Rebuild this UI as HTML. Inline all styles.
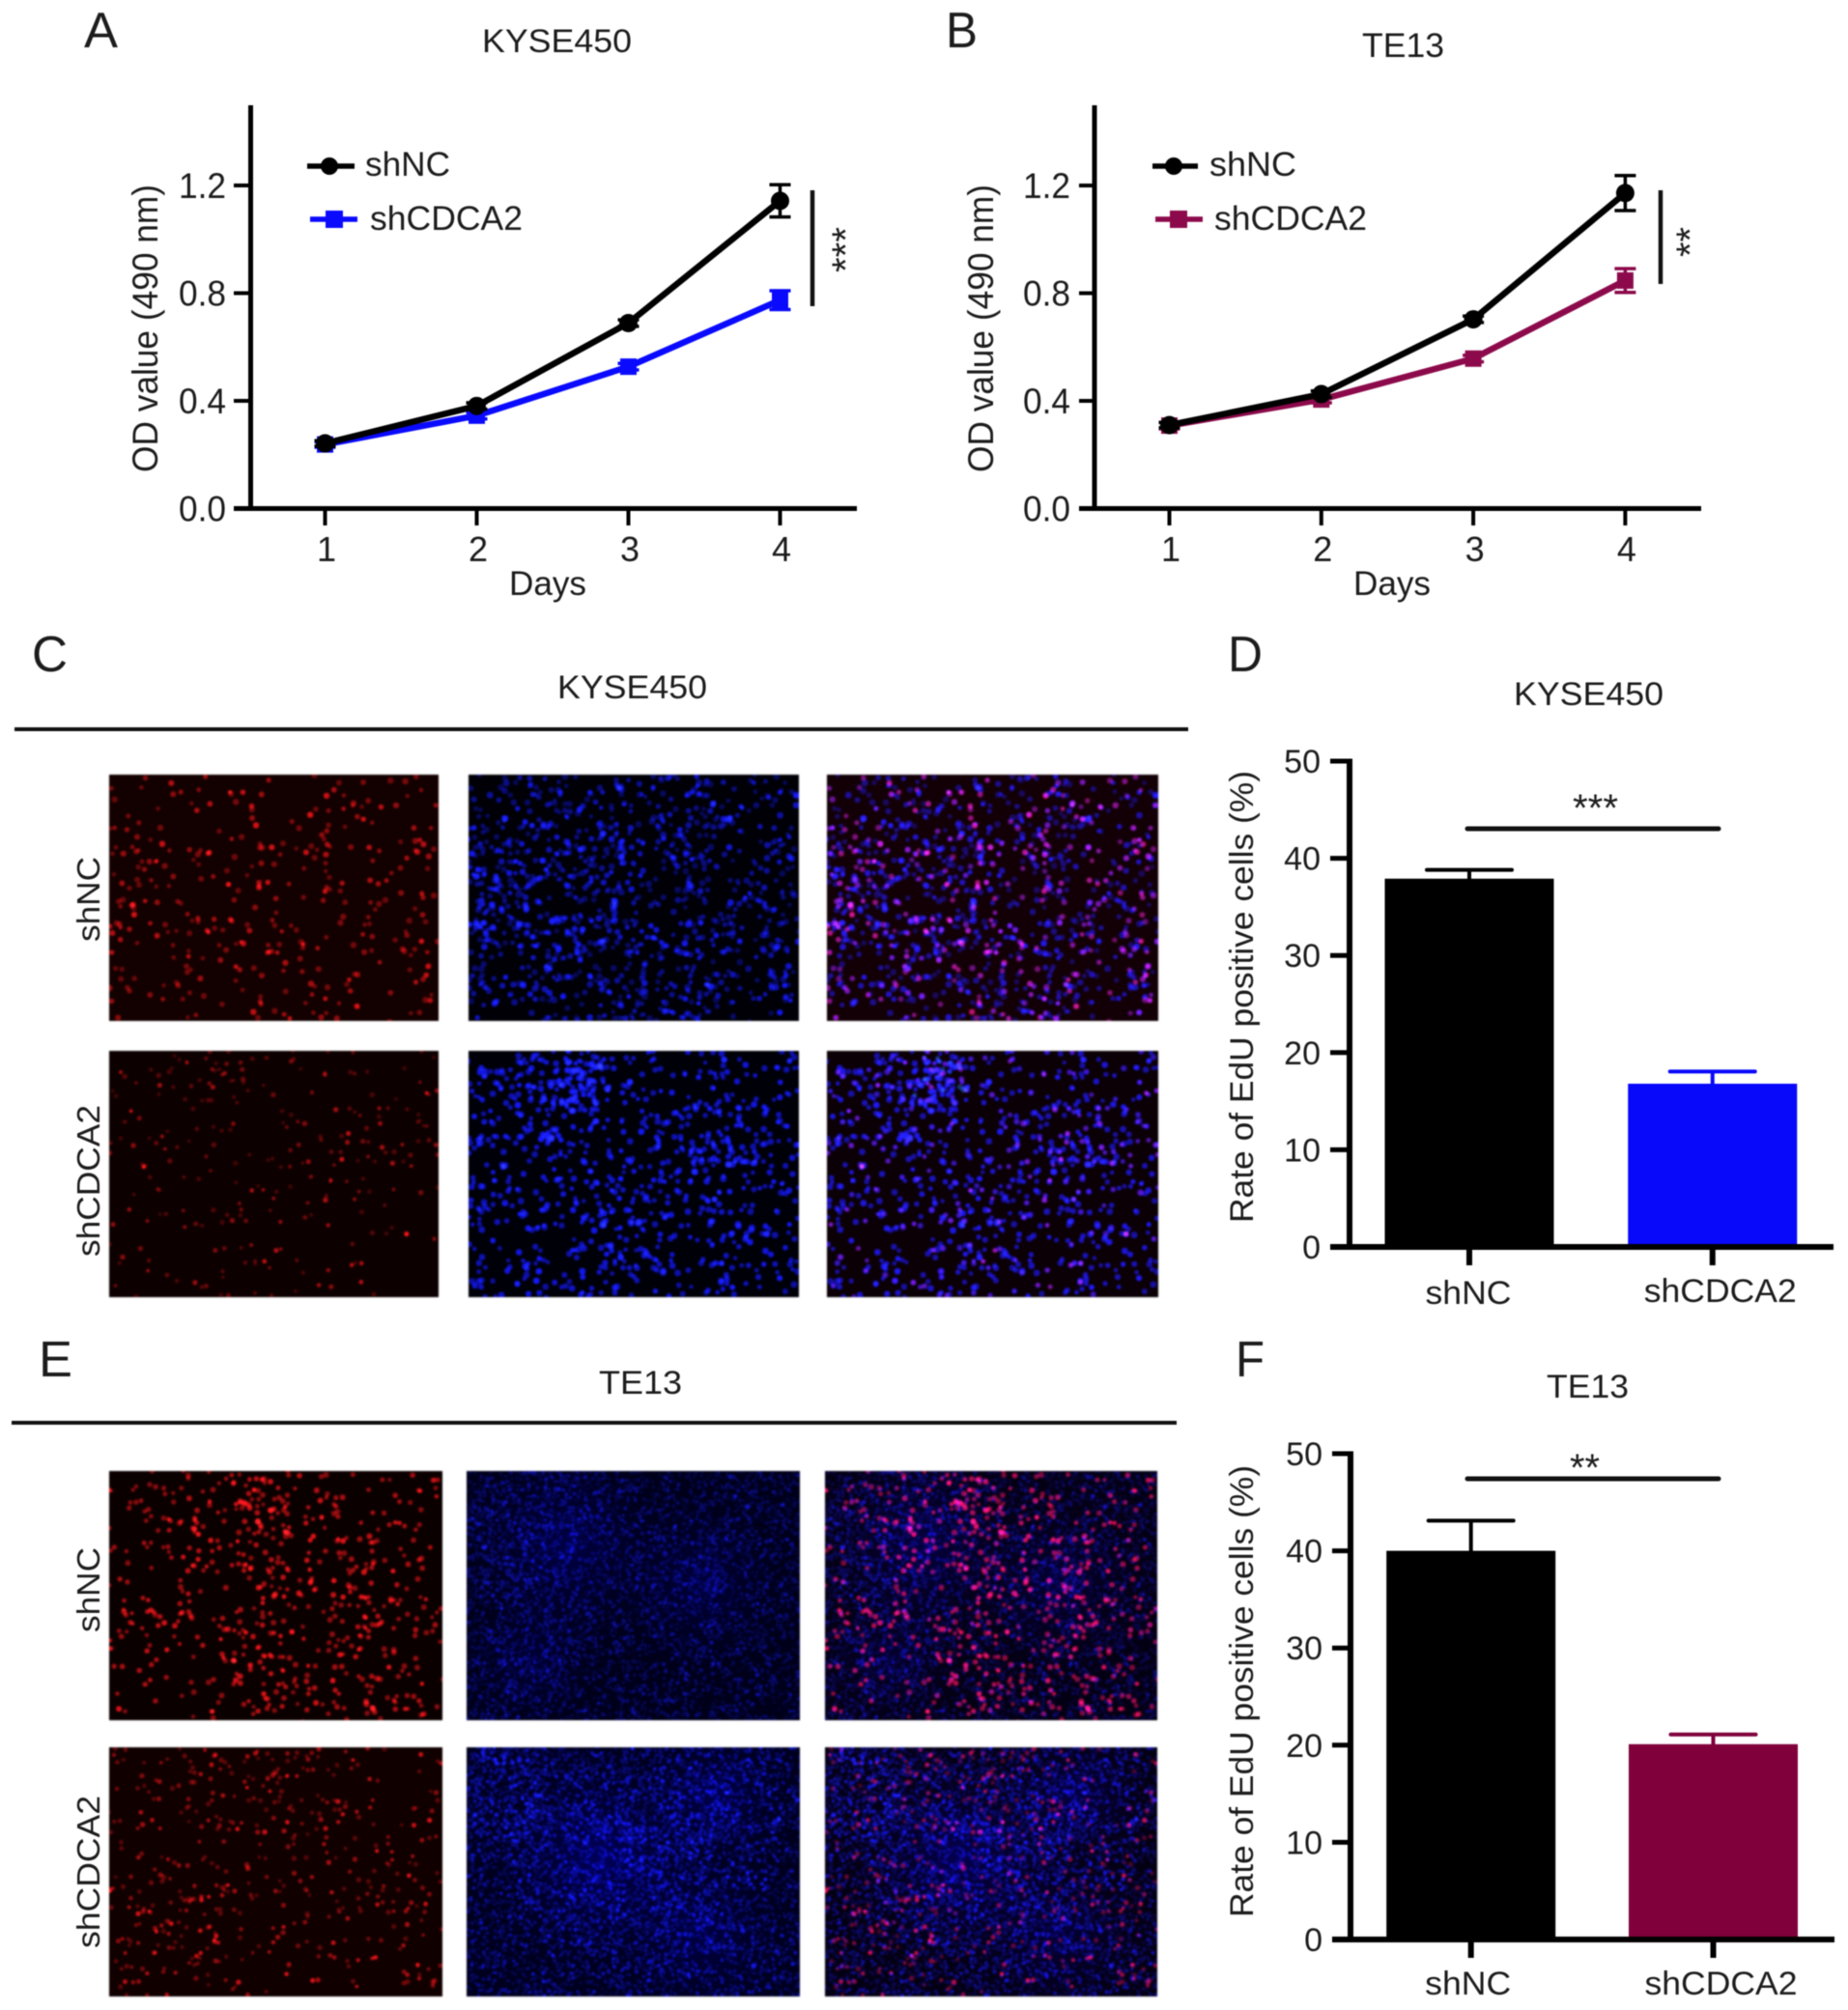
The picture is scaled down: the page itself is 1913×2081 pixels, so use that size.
<!DOCTYPE html>
<html lang="en">
<head>
<meta charset="utf-8">
<title>CDCA2 knockdown proliferation figure</title>
<style>
html,body{margin:0;padding:0;background:#fff;}
#figure{position:relative;width:1913px;height:2081px;overflow:hidden;background:#fff;filter:blur(0.6px);}
#figure canvas{position:absolute;display:block;filter:blur(0.7px);}
#figure svg{position:absolute;left:0;top:0;}
text{font-family:"Liberation Sans",sans-serif;fill:#1c1c1c;}
</style>
</head>
<body>
<div id="figure">
  <canvas id="c-r1" width="341" height="255" style="left:113px;top:802px"></canvas>
  <canvas id="c-b1" width="342" height="255" style="left:485px;top:802px"></canvas>
  <canvas id="c-m1" width="343" height="255" style="left:856px;top:802px"></canvas>
  <canvas id="c-r2" width="341" height="255" style="left:113px;top:1088px"></canvas>
  <canvas id="c-b2" width="342" height="255" style="left:485px;top:1088px"></canvas>
  <canvas id="c-m2" width="343" height="255" style="left:856px;top:1088px"></canvas>
  <canvas id="e-r1" width="345" height="258" style="left:113px;top:1523px"></canvas>
  <canvas id="e-b1" width="345" height="258" style="left:483px;top:1523px"></canvas>
  <canvas id="e-m1" width="344" height="258" style="left:854px;top:1523px"></canvas>
  <canvas id="e-r2" width="345" height="258" style="left:113px;top:1809px"></canvas>
  <canvas id="e-b2" width="345" height="258" style="left:483px;top:1809px"></canvas>
  <canvas id="e-m2" width="344" height="258" style="left:854px;top:1809px"></canvas>

  <svg id="chart" width="1913" height="2081" viewBox="0 0 1913 2081" xmlns="http://www.w3.org/2000/svg">
    <!-- panel letters -->
    <text x="87" y="49" font-size="52" textLength="35" lengthAdjust="spacingAndGlyphs">A</text>
    <text x="979" y="49" font-size="52" textLength="33" lengthAdjust="spacingAndGlyphs">B</text>
    <text x="33" y="695" font-size="52" textLength="37" lengthAdjust="spacingAndGlyphs">C</text>
    <text x="1271" y="695" font-size="52" textLength="36" lengthAdjust="spacingAndGlyphs">D</text>
    <text x="40" y="1425" font-size="52" textLength="35" lengthAdjust="spacingAndGlyphs">E</text>
    <text x="1279" y="1425" font-size="52" textLength="30" lengthAdjust="spacingAndGlyphs">F</text>

    <!-- titles -->
    <text x="499" y="54" font-size="34" textLength="155" lengthAdjust="spacingAndGlyphs">KYSE450</text>
    <text x="1410" y="59" font-size="35" textLength="85" lengthAdjust="spacingAndGlyphs">TE13</text>
    <text x="577" y="723" font-size="34" textLength="155" lengthAdjust="spacingAndGlyphs">KYSE450</text>
    <text x="1567" y="730" font-size="34" textLength="155" lengthAdjust="spacingAndGlyphs">KYSE450</text>
    <text x="620" y="1443" font-size="34" textLength="86" lengthAdjust="spacingAndGlyphs">TE13</text>
    <text x="1601" y="1447" font-size="34" textLength="85" lengthAdjust="spacingAndGlyphs">TE13</text>

    <!-- image panel header rules -->
    <line x1="15" y1="755" x2="1230" y2="755" stroke="#111" stroke-width="4"/>
    <line x1="12" y1="1473" x2="1218" y2="1473" stroke="#111" stroke-width="4"/>

    <!-- image row labels -->
    <text transform="translate(103,975) rotate(-90)" font-size="33" textLength="88" lengthAdjust="spacingAndGlyphs">shNC</text>
    <text transform="translate(103,1301) rotate(-90)" font-size="33" textLength="157" lengthAdjust="spacingAndGlyphs">shCDCA2</text>
    <text transform="translate(103,1690) rotate(-90)" font-size="33" textLength="88" lengthAdjust="spacingAndGlyphs">shNC</text>
    <text transform="translate(103,2017) rotate(-90)" font-size="33" textLength="158" lengthAdjust="spacingAndGlyphs">shCDCA2</text>

    <!-- axis titles -->
    <text transform="translate(163,489) rotate(-90)" font-size="37" textLength="298" lengthAdjust="spacingAndGlyphs">OD value (490 nm)</text>
    <text transform="translate(1028,489) rotate(-90)" font-size="37" textLength="298" lengthAdjust="spacingAndGlyphs">OD value (490 nm)</text>
    <text x="527" y="616" font-size="35" textLength="80" lengthAdjust="spacingAndGlyphs">Days</text>
    <text x="1401" y="616" font-size="35" textLength="80" lengthAdjust="spacingAndGlyphs">Days</text>
    <text transform="translate(1297,1266) rotate(-90)" font-size="34" textLength="468" lengthAdjust="spacingAndGlyphs">Rate of EdU positive cells (%)</text>
    <text transform="translate(1297,1985) rotate(-90)" font-size="34" textLength="468" lengthAdjust="spacingAndGlyphs">Rate of EdU positive cells (%)</text>

    <!-- legends -->
    <g>
      <line x1="318" y1="172" x2="367" y2="172" stroke="#000" stroke-width="5.5"/>
      <circle cx="341" cy="172" r="9" fill="#000"/>
      <text x="378" y="182" font-size="35" textLength="88" lengthAdjust="spacingAndGlyphs">shNC</text>
      <line x1="321" y1="227" x2="370" y2="227" stroke="#0a0aff" stroke-width="5.5"/>
      <rect x="337" y="218" width="18" height="18" fill="#0a0aff"/>
      <text x="383" y="238" font-size="35" textLength="158" lengthAdjust="spacingAndGlyphs">shCDCA2</text>
    </g>
    <g>
      <line x1="1193" y1="172" x2="1240" y2="172" stroke="#000" stroke-width="5.5"/>
      <circle cx="1215" cy="172" r="9" fill="#000"/>
      <text x="1252" y="182" font-size="35" textLength="90" lengthAdjust="spacingAndGlyphs">shNC</text>
      <line x1="1196" y1="227" x2="1245" y2="227" stroke="#8c0a4b" stroke-width="5.5"/>
      <rect x="1211" y="218" width="18" height="18" fill="#8c0a4b"/>
      <text x="1257" y="238" font-size="35" textLength="158" lengthAdjust="spacingAndGlyphs">shCDCA2</text>
    </g>

    <!-- significance annotations -->
    <line x1="841" y1="197" x2="841" y2="317" stroke="#111" stroke-width="4.5"/>
    <text transform="translate(889,282) rotate(-90)" font-size="40" textLength="47" lengthAdjust="spacingAndGlyphs">***</text>
    <line x1="1719" y1="197" x2="1719" y2="294" stroke="#111" stroke-width="4.5"/>
    <text transform="translate(1763,266) rotate(-90)" font-size="40" textLength="31" lengthAdjust="spacingAndGlyphs">**</text>
    <line x1="1519" y1="858" x2="1779" y2="858" stroke="#111" stroke-width="5" stroke-linecap="round"/>
    <text x="1628" y="850" font-size="40" textLength="47" lengthAdjust="spacingAndGlyphs">***</text>
    <line x1="1519" y1="1531" x2="1779" y2="1531" stroke="#111" stroke-width="5" stroke-linecap="round"/>
    <text x="1625" y="1533" font-size="40" textLength="31" lengthAdjust="spacingAndGlyphs">**</text>
  </svg>
</div>

<script>
/* ---------- chart data ---------- */
const days = [1, 2, 3, 4];
const odTicks = [0, 0.4, 0.8, 1.2];
const odTickLabels = ["0.0", "0.4", "0.8", "1.2"];

const kyseShNC = [0.242, 0.381, 0.689, 1.143];
const kyseShNCErr = [0.01, 0.012, 0.012, 0.06];
const kyseShCDCA2 = [0.238, 0.345, 0.527, 0.774];
const kyseShCDCA2Err = [0.01, 0.012, 0.012, 0.035];

const te13ShNC = [0.31, 0.425, 0.703, 1.172];
const te13ShNCErr = [0.01, 0.012, 0.012, 0.065];
const te13ShCDCA2 = [0.308, 0.405, 0.557, 0.847];
const te13ShCDCA2Err = [0.012, 0.012, 0.012, 0.044];

const eduGroups = ["shNC", "shCDCA2"];
const eduTicks = [0, 10, 20, 30, 40, 50];
const kyseEdu = [37.9, 16.8];
const kyseEduErr = [0.9, 1.25];
const te13Edu = [40.0, 20.1];
const te13EduErr = [3.1, 1.0];

/* ---------- svg helper ---------- */
const svg = document.getElementById("chart");
function el(parent, tag, attrs, text) {
  const node = document.createElementNS("http://www.w3.org/2000/svg", tag);
  for (const k in attrs) node.setAttribute(k, attrs[k]);
  if (text !== undefined) node.textContent = text;
  parent.appendChild(node);
  return node;
}

/* ---------- line charts (panels A, B) ---------- */
function drawLineChart(panel, left, right, axisX, x0, step, labelEnd, seriesA, errA, seriesB, errB, colorB) {
  const xScale = d => x0 + (d - days[0]) * step;
  const yScale = v => 526.5 - v * 278.7;

  const g = el(svg, "g", {});
  
  

  const yAxis = el(g, "line", {x1: axisX, y1: 109, x2: axisX, y2: yScale(0) + 2.5, stroke: "#000", "stroke-width": 5});
  
  
  const xAxis = el(g, "line", {x1: left, y1: yScale(0), x2: right, y2: yScale(0), stroke: "#000", "stroke-width": 5});
  
  

  odTicks.forEach((t, i) => {
    const tick = el(g, "line", {x1: left, y1: yScale(t), x2: axisX, y2: yScale(t), stroke: "#000", "stroke-width": 4});
    
    
    const label = el(g, "text", {x: labelEnd, y: yScale(t) + 13, "font-size": 37, "text-anchor": "end", textLength: 49, lengthAdjust: "spacingAndGlyphs"}, odTickLabels[i]);
    
    
  });
  days.forEach(d => {
    const tick = el(g, "line", {x1: xScale(d), y1: yScale(0), x2: xScale(d), y2: 544, stroke: "#000", "stroke-width": 4});
    
    
    const label = el(g, "text", {x: xScale(d) + 1.5, y: 581, "font-size": 36, "text-anchor": "middle"}, String(d));
    
    
  });

  drawSeries(g, panel, "shcdca2", seriesB, errB, colorB, "square", xScale, yScale);
  drawSeries(g, panel, "shnc", seriesA, errA, "#000", "circle", xScale, yScale);
}

function drawSeries(g, panel, name, values, errs, color, shape, xScale, yScale) {
  const pts = days.map((d, i) => xScale(d) + "," + yScale(values[i])).join(" ");
  const line = el(g, "polyline", {points: pts, fill: "none", stroke: color, "stroke-width": 6.5, "stroke-linejoin": "round"});
  
  
  days.forEach((d, i) => {
    const cx = xScale(d);
    const top = yScale(values[i] + errs[i]);
    const bot = yScale(values[i] - errs[i]);
    const whisker = el(g, "path", {
      d: "M" + cx + " " + top + "V" + bot + "M" + (cx - 11) + " " + top + "H" + (cx + 11) + "M" + (cx - 11) + " " + bot + "H" + (cx + 11),
      fill: "none", stroke: color, "stroke-width": 3.5
    });
    
    
    const cy = yScale(values[i]);
    const marker = shape === "circle"
      ? el(g, "circle", {cx: cx, cy: cy, r: 9.5, fill: color})
      : el(g, "rect", {x: cx - 8.5, y: cy - 8.5, width: 17, height: 17, fill: color});
    
    
  });
}

drawLineChart("a", 242, 887, 259.5, 336.5, 157, 234, kyseShNC, kyseShNCErr, kyseShCDCA2, kyseShCDCA2Err, "#0a0aff");
drawLineChart("b", 1117, 1761, 1133, 1210.5, 157.3, 1108, te13ShNC, te13ShNCErr, te13ShCDCA2, te13ShCDCA2Err, "#8c0a4b");

/* ---------- bar charts (panels D, F) ---------- */
function drawBarChart(panel, axisX, left, right, top, zero, c0, c1, labelY, values, errs, color) {
  const yScale = v => zero - v * (zero - top) / eduTicks[eduTicks.length - 1];
  const xScale = i => c0 + i * (c1 - c0);
  const colors = ["#000", color];

  const g = el(svg, "g", {});
  
  

  values.forEach((v, i) => {
    const cx = xScale(i);
    const bar = el(g, "rect", {x: cx - 87.5, y: yScale(v), width: 175, height: zero - yScale(v), fill: colors[i]});
    
    
    const errTop = yScale(v + errs[i]);
    const whisker = el(g, "path", {
      d: "M" + cx + " " + yScale(v) + "V" + errTop + "M" + (cx - 44) + " " + errTop + "H" + (cx + 44),
      fill: "none", stroke: colors[i], "stroke-width": 4, "stroke-linecap": "round"
    });
    
    
    const tick = el(g, "line", {x1: cx, y1: zero, x2: cx, y2: zero + 19, stroke: "#000", "stroke-width": 6});
    
    
    const wide = eduGroups[i].length > 4;
    const label = el(g, "text", {x: cx + (wide ? 8 : (panel === "f" ? -3 : -1)), y: i === 0 ? labelY : labelY - (panel === "d" ? 2 : 0), "font-size": 34, "text-anchor": "middle", textLength: wide ? 158 : 89, lengthAdjust: "spacingAndGlyphs"}, eduGroups[i]);
    
    
  });

  const yAxis = el(g, "line", {x1: axisX, y1: top - 2.5, x2: axisX, y2: zero + 2.5, stroke: "#000", "stroke-width": 6});
  
  
  const xAxis = el(g, "line", {x1: left, y1: zero, x2: right, y2: zero, stroke: "#000", "stroke-width": 6});
  
  

  eduTicks.forEach(t => {
    const tick = el(g, "line", {x1: left, y1: yScale(t), x2: axisX, y2: yScale(t), stroke: "#000", "stroke-width": 5});
    
    
    const label = el(g, "text", {x: left - 10, y: yScale(t) + 12, "font-size": 34, "text-anchor": "end"}, String(t));
    
    
  });
}

drawBarChart("d", 1397, 1377, 1898, 788, 1291, 1521, 1772.75, 1350, kyseEdu, kyseEduErr, "#0808fb");
drawBarChart("f", 1398, 1379, 1899, 1505, 2008, 1522.7, 1773.5, 2065, te13Edu, te13EduErr, "#80003c");

/* ---------- micrograph textures (decorative fluorescence images) ---------- */
function prng(seed) {
  return function () {
    seed |= 0; seed = seed + 0x6D2B79F5 | 0;
    let t = Math.imul(seed ^ seed >>> 15, 1 | seed);
    t = t + Math.imul(t ^ t >>> 7, 61 | t) ^ t;
    return ((t ^ t >>> 14) >>> 0) / 4294967296;
  };
}
function dots(seed, n, w, h, hot, hotShare, rMin, rMax, aMin, aMax) {
  const r = prng(seed), out = [];
  for (let i = 0; i < n; i++) {
    let x, y;
    if (hot.length && r() < hotShare) {
      const c = hot[Math.floor(r() * hot.length)];
      const a = r() * Math.PI * 2, d = Math.sqrt(-2 * Math.log(1 - r())) * c[2];
      x = c[0] * w + Math.cos(a) * d;
      y = c[1] * h + Math.sin(a) * d;
    } else { x = r() * w; y = r() * h; }
    const b = r();
    out.push([x, y, rMin + (rMax - rMin) * b, aMin + (aMax - aMin) * r() * r()]);
  }
  return out;
}
/* nuclei labelled in both channels: a subset of the blue nuclei also shows red */
function subset(seed, src, share, rMin, rMax, aMin, aMax) {
  const r = prng(seed), out = [];
  src.forEach(d => {
    if (r() < share) out.push([d[0], d[1], rMin + (rMax - rMin) * r(), aMin + (aMax - aMin) * r() * r()]);
  });
  return out;
}
function paint(id, bg, washes, layers) {
  const cv = document.getElementById(id), ctx = cv.getContext("2d"), w = cv.width, h = cv.height;
  ctx.fillStyle = bg;
  ctx.fillRect(0, 0, w, h);
  ctx.globalCompositeOperation = "lighter";
  washes.forEach(b => {
    const g = ctx.createRadialGradient(b[0] * w, b[1] * h, 0, b[0] * w, b[1] * h, b[2]);
    g.addColorStop(0, b[3]);
    g.addColorStop(1, "rgba(0,0,0,0)");
    ctx.fillStyle = g;
    ctx.fillRect(0, 0, w, h);
  });
  layers.forEach(l => {
    l.dots.forEach(d => {
      ctx.fillStyle = "rgba(" + l.rgb + "," + d[3] + ")";
      ctx.beginPath();
      ctx.arc(d[0] * w / l.w, d[1] * h / l.h, d[2], 0, Math.PI * 2);
      ctx.fill();
    });
  });
  ctx.globalCompositeOperation = "source-over";
}

const W = 342, H = 255, EW = 345, EH = 258;
const RED = "235,20,25", BLUE = "20,25,255";

/* KYSE450 */
const b1 = dots(12, 1150, W, H, [[.25,.3,60],[.3,.6,55],[.62,.9,40],[.7,.25,60],[.08,.5,30]], .3, 2.2, 3.4, .32, 1);
const r1 = subset(11, b1, .33, 2.2, 3.2, .35, 1);
const b2 = dots(14, 900, W, H, [[.33,.13,22],[.2,.25,35],[.75,.4,30],[.45,.75,40]], .3, 2.2, 3.4, .6, 1);
const r2 = subset(13, b2, .27, 1.8, 2.7, .22, .85);
const c2Cyan = dots(15, 14, W, H, [[.33,.08,14]], 1, 2, 3, .3, .6);
paint("c-r1", "#130000", [], [{dots: r1, rgb: RED, w: W, h: H}]);
paint("c-b1", "#000006", [], [{dots: b1, rgb: BLUE, w: W, h: H}]);
paint("c-m1", "#120006", [], [{dots: b1, rgb: BLUE, w: W, h: H}, {dots: r1, rgb: "215,15,60", w: W, h: H}]);
paint("c-r2", "#0d0000", [], [{dots: r2, rgb: RED, w: W, h: H}]);
paint("c-b2", "#000008", [], [{dots: b2, rgb: BLUE, w: W, h: H}]);
paint("c-m2", "#0b0005", [], [{dots: b2, rgb: BLUE, w: W, h: H}, {dots: r2, rgb: "170,10,50", w: W, h: H}, {dots: c2Cyan, rgb: "30,120,230", w: W, h: H}]);

/* TE13 */
const er1 = dots(21, 620, EW, EH, [[.7,.38,55],[.3,.12,45],[.2,.55,45],[.75,.72,45],[.47,.82,40],[.5,.12,30]], .55, 2.1, 3, .5, 1);
const eb1 = dots(22, 5200, EW, EH, [[.12,.3,45],[.25,.1,50],[.7,.35,60],[.15,.75,40]], .3, 1.5, 2.1, .1, .42);
const er2 = dots(23, 480, EW, EH, [[.4,.6,55],[.2,.75,40],[.8,.55,50],[.5,.15,40]], .4, 1.9, 2.7, .28, .95);
const eb2 = dots(24, 6000, EW, EH, [[.35,.4,70],[.7,.2,50],[.6,.6,60],[.15,.2,40]], .35, 1.5, 2.1, .14, .55);
const teal1 = [[.3,.3,120,"rgba(0,0,55,.85)"],[.7,.45,110,"rgba(0,0,45,.8)"],[.2,.75,90,"rgba(0,0,40,.7)"]];
const teal2 = [[.4,.45,130,"rgba(0,0,70,.9)"],[.75,.2,90,"rgba(0,0,60,.8)"],[.7,.75,110,"rgba(0,0,50,.8)"]];
paint("e-r1", "#0b0000", [], [{dots: er1, rgb: RED, w: EW, h: EH}]);
paint("e-b1", "#00001a", teal1, [{dots: eb1, rgb: BLUE, w: EW, h: EH}]);
paint("e-m1", "#040014", teal1, [{dots: eb1, rgb: BLUE, w: EW, h: EH}, {dots: er1, rgb: "235,15,70", w: EW, h: EH}]);
paint("e-r2", "#100000", [], [{dots: er2, rgb: RED, w: EW, h: EH}]);
paint("e-b2", "#00001e", teal2, [{dots: eb2, rgb: BLUE, w: EW, h: EH}]);
paint("e-m2", "#040014", teal2, [{dots: eb2, rgb: BLUE, w: EW, h: EH}, {dots: er2, rgb: "225,15,70", w: EW, h: EH}]);
</script>
</body>
</html>
